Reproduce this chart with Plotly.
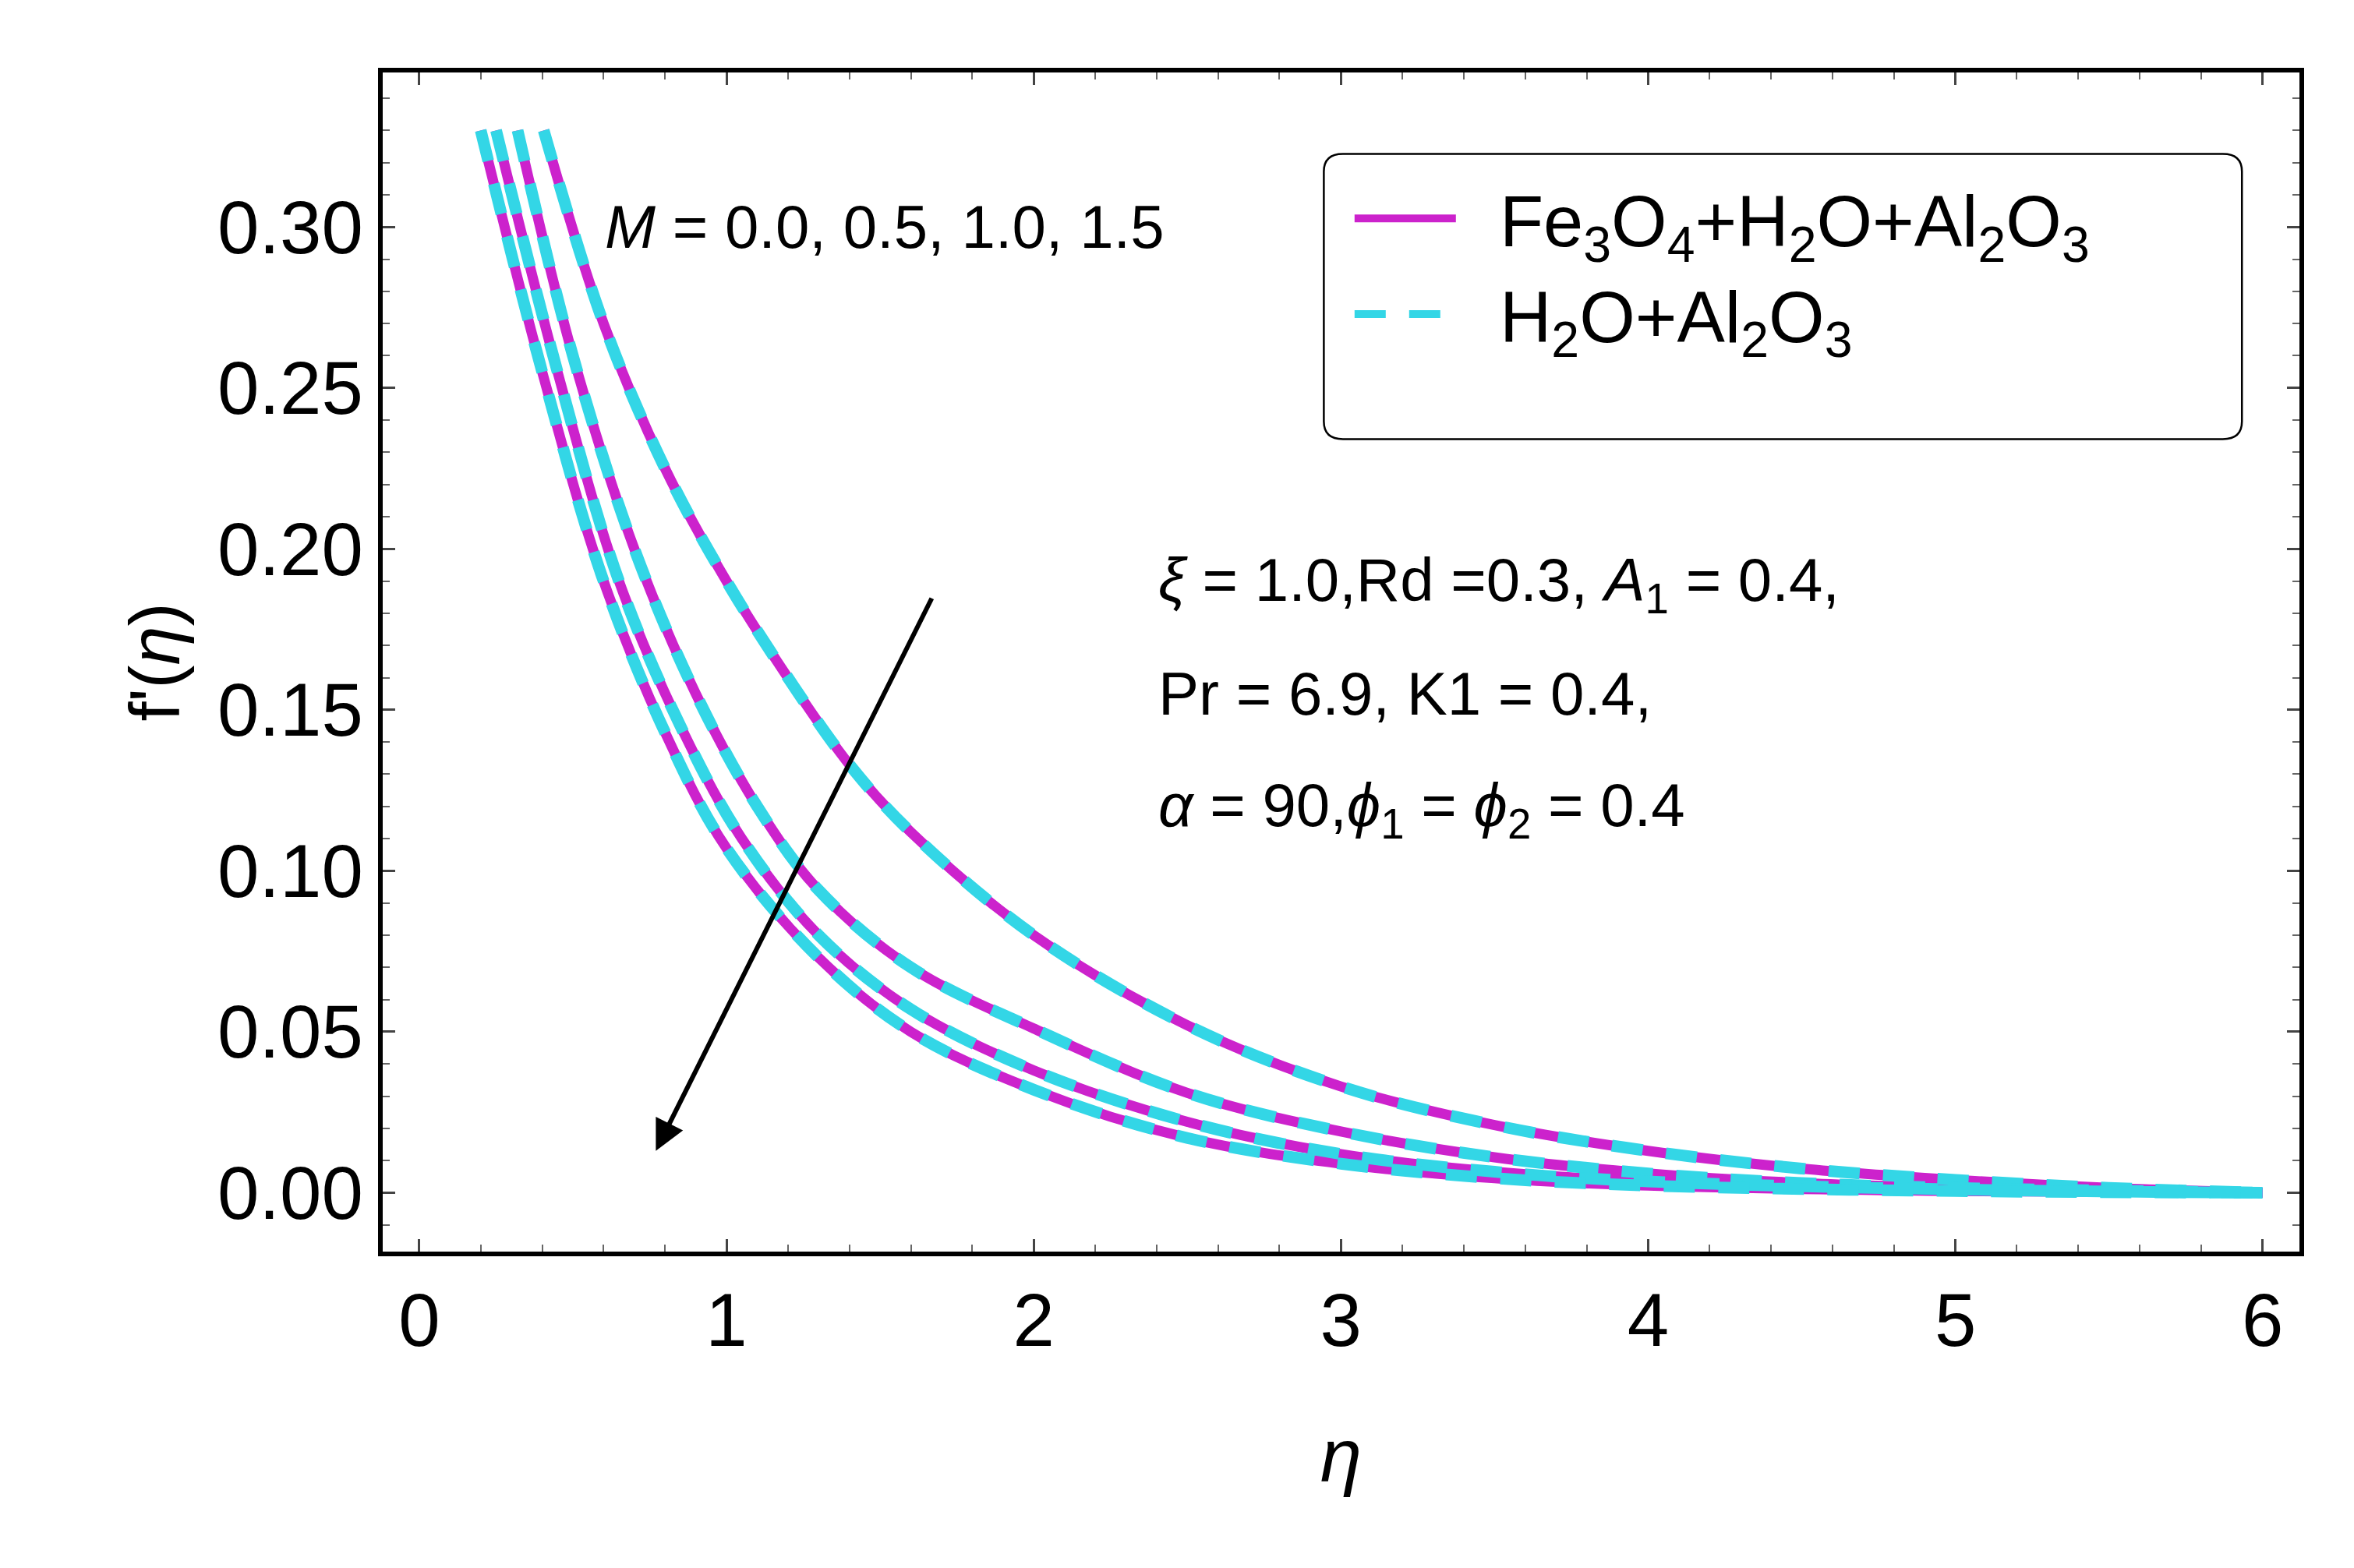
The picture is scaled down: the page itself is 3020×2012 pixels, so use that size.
import plotly.graph_objects as go

x_m00 = [0.405, 0.6, 0.8, 1.0, 1.2, 1.4, 1.6, 2.0, 2.5, 3.0, 3.5, 4.0, 4.5, 5.0, 5.5, 6.0]
y_m00 = [0.33, 0.27, 0.225, 0.19, 0.16, 0.133, 0.112, 0.08, 0.052, 0.033, 0.021, 0.013, 0.0075, 0.004, 0.0015, 0.0]
x_m05 = [0.32, 0.5, 0.7, 0.9, 1.1, 1.3, 1.6, 2.0, 2.5, 3.0, 3.5, 4.0, 4.5, 5.0, 6.0]
y_m05 = [0.33, 0.26, 0.2, 0.155, 0.12, 0.094, 0.07, 0.051, 0.031, 0.019, 0.011, 0.006, 0.003, 0.0015, 0.0]
x_m10 = [0.25, 0.45, 0.65, 0.85, 1.05, 1.3, 1.6, 2.0, 2.5, 3.0, 3.5, 4.0, 5.0, 6.0]
y_m10 = [0.33, 0.255, 0.19, 0.145, 0.11, 0.08, 0.057, 0.038, 0.022, 0.012, 0.0065, 0.0035, 0.001, 0.0]
x_m15 = [0.2, 0.4, 0.6, 0.8, 1.0, 1.3, 1.6, 2.0, 2.5, 3.0, 3.5, 4.0, 5.0, 6.0]
y_m15 = [0.33, 0.255, 0.19, 0.143, 0.107, 0.073, 0.05, 0.032, 0.017, 0.009, 0.0045, 0.0022, 0.0005, 0.0]
curves = [(x_m00, y_m00), (x_m05, y_m05), (x_m10, y_m10), (x_m15, y_m15)]

name1 = "  Fe<sub>3</sub>O<sub>4</sub>+H<sub>2</sub>O+Al<sub>2</sub>O<sub>3</sub>"
name2 = "  H<sub>2</sub>O+Al<sub>2</sub>O<sub>3</sub>"

fig = go.Figure()
for i, (xs, ys) in enumerate(curves):
    fig.add_trace(go.Scatter(x=xs, y=ys, mode="lines", line=dict(color="#cc22cc", width=13, shape="spline", smoothing=1.0),
                             name=name1, showlegend=(i == 0)))
for i, (xs, ys) in enumerate(curves):
    fig.add_trace(go.Scatter(x=xs, y=ys, mode="lines", line=dict(color="#33d6e6", width=15, dash="40px,30px", shape="spline", smoothing=1.0),
                             name=name2, showlegend=(i == 0)))

F = "Liberation Sans, Arial, sans-serif"
ax = dict(showline=True, linecolor="black", linewidth=6, mirror="allticks", ticks="inside", ticklen=16,
          tickwidth=2.5, tickcolor="#444", showgrid=False, zeroline=False, tickfont=dict(size=96, family=F, color="black"),
          minor=dict(ticks="inside", ticklen=9, tickwidth=2, tickcolor="#666"))
fig.update_xaxes(**ax, range=[-0.119, 6.12], dtick=1, minor_dtick=0.2,
                 title=dict(text="<i>η</i>", font=dict(size=96, family=F, color="black"), standoff=90))
fig.update_yaxes(**ax, range=[-0.0183, 0.348], dtick=0.05, tickformat=".2f", minor_dtick=0.01,
                 title=dict(text="f'(<i>η</i>)", font=dict(size=90, family=F, color="black"), standoff=20))

fig.add_shape(type="path", xref="paper", yref="paper",
              path="M 0.501,0.931 L 0.960,0.931 Q 0.970,0.931 0.970,0.916 L 0.970,0.704 Q 0.970,0.689 0.960,0.689 L 0.501,0.689 Q 0.491,0.689 0.491,0.704 L 0.491,0.916 Q 0.491,0.931 0.501,0.931 Z",
              line=dict(color="black", width=2.5), fillcolor="white", layer="below")

fig.add_annotation(x=0.77, y=0.013, ax=1.67, ay=0.185, xref="x", yref="y", axref="x", ayref="y",
                   showarrow=True, arrowhead=2, arrowsize=1.3, arrowwidth=6, arrowcolor="black", text="")
txtfont = dict(size=78, family=F, color="black")
fig.add_annotation(x=0.6, y=0.30, xref="x", yref="y", text="<i>M</i> = 0.0, 0.5, 1.0, 1.5",
                   showarrow=False, xanchor="left", font=txtfont)
fig.add_annotation(x=2.4, y=0.189, xref="x", yref="y", text="<i>ξ</i> = 1.0,Rd =0.3, <i>A</i><sub>1</sub> = 0.4,",
                   showarrow=False, xanchor="left", font=txtfont)
fig.add_annotation(x=2.4, y=0.155, xref="x", yref="y", text="Pr = 6.9, K1 = 0.4,",
                   showarrow=False, xanchor="left", font=txtfont)
fig.add_annotation(x=2.4, y=0.119, xref="x", yref="y", text="<i>α</i> = 90,<i>ϕ</i><sub>1</sub> = <i>ϕ</i><sub>2</sub> = 0.4",
                   showarrow=False, xanchor="left", font=txtfont)

fig.update_layout(width=3020, height=2012, plot_bgcolor="white", paper_bgcolor="white",
                  margin=dict(l=483, r=78, t=85, b=414),
                  legend=dict(x=0.505, y=0.92, xanchor="left", yanchor="top", bgcolor="rgba(0,0,0,0)",
                              font=dict(size=92, family=F, color="black"), itemwidth=130, tracegroupgap=40))
fig.write_html("out.html")
